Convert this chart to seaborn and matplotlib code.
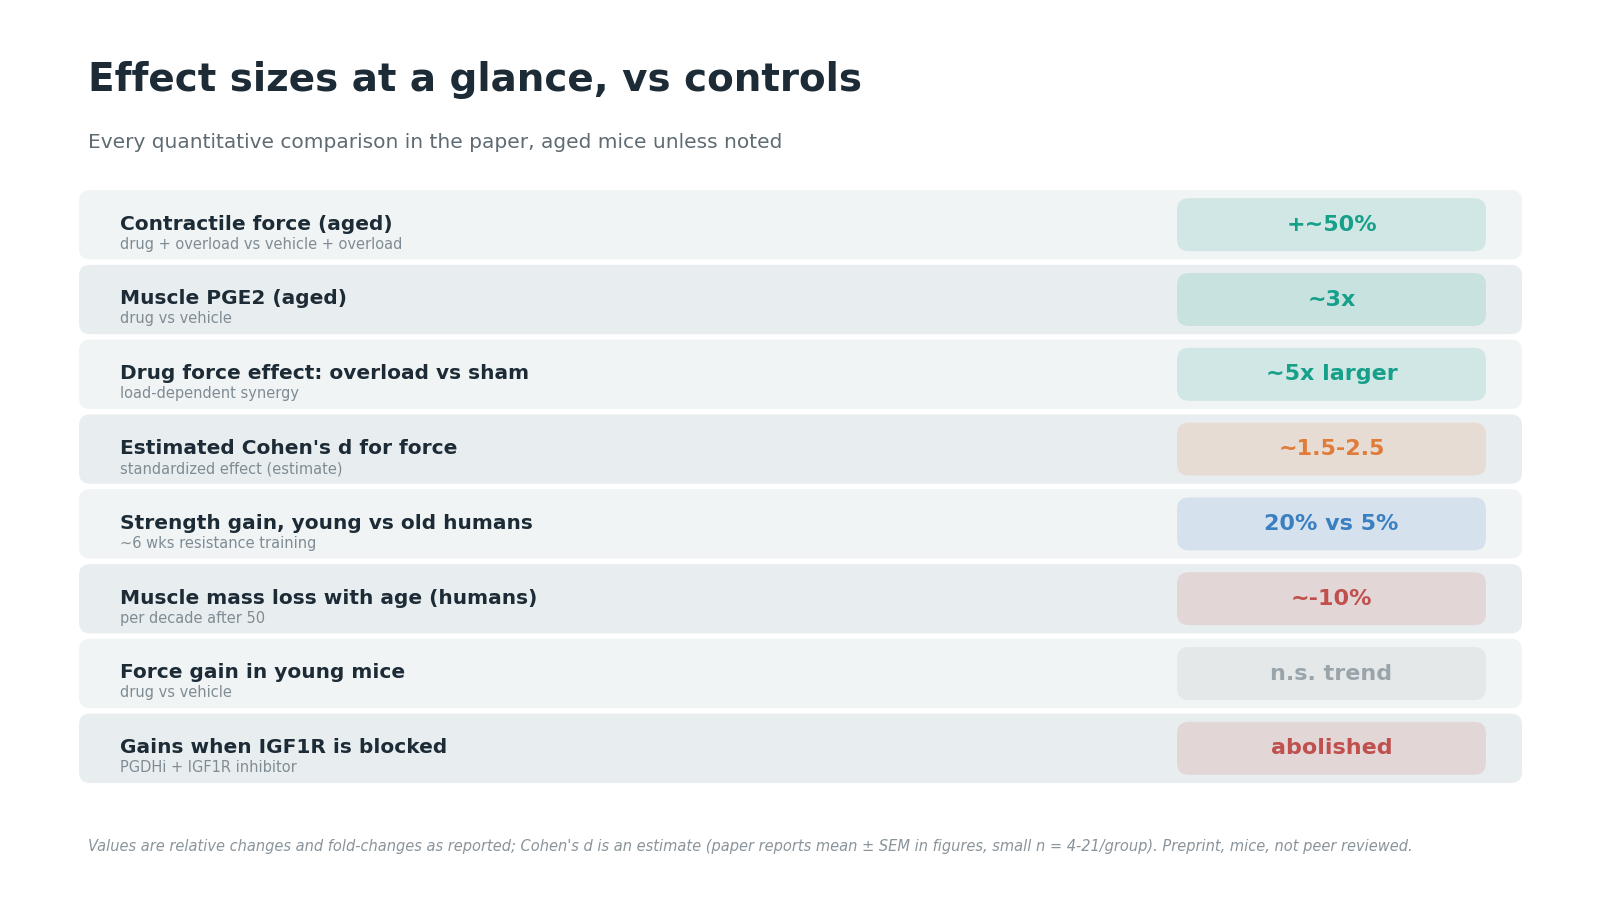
import matplotlib
matplotlib.use("Agg")
import matplotlib.pyplot as plt
from matplotlib.patches import FancyBboxPatch
import seaborn as sns

# ── data ─────────────────────────────────────────────────────────────────────
labels = [
    "Contractile force (aged)",
    "Muscle PGE2 (aged)",
    "Drug force effect: overload vs sham",
    "Estimated Cohen's d for force",
    "Strength gain, young vs old humans",
    "Muscle mass loss with age (humans)",
    "Force gain in young mice",
    "Gains when IGF1R is blocked",
]
sublabels = [
    "drug + overload vs vehicle + overload",
    "drug vs vehicle",
    "load-dependent synergy",
    "standardized effect (estimate)",
    "~6 wks resistance training",
    "per decade after 50",
    "drug vs vehicle",
    "PGDHi + IGF1R inhibitor",
]
effects = ["+~50%", "~3x", "~5x larger", "~1.5-2.5", "20% vs 5%", "~-10%", "n.s. trend", "abolished"]
tones = ["up", "up", "up", "estimate", "human", "down", "neutral", "down"]

TONE_COLORS = {
    "up": "#16a08a",
    "estimate": "#e07b39",
    "human": "#3a7fc1",
    "down": "#c0504d",
    "neutral": "#9aa5ab",
}
DARK = "#1c2b36"
MUTED = "#5f6b73"
SOFT = "#7f8c94"
ROW_BG = ["#f1f4f5", "#e8eef0"]

sns.set_theme(style="white")
plt.rcParams["font.family"] = ["DejaVu Sans"]

fig = plt.figure(figsize=(16, 9), dpi=100)
fig.patch.set_facecolor("white")

fig.text(88 / 1600, 1 - 91 / 900, "Effect sizes at a glance, vs controls",
         fontsize=28, fontweight="bold", color=DARK, va="baseline")
fig.text(88 / 1600, 1 - 148 / 900, "Every quantitative comparison in the paper, aged mice unless noted",
         fontsize=14.5, color=MUTED, va="baseline")

# rows axes: x in pixels, y in row index units
PITCH = 74.8
n = len(labels)
row_h = 69.4 / PITCH
ax = fig.add_axes([79 / 1600, 1 - 783 / 900, (1522 - 79) / 1600, (783 - 190) / 900])
ax.set_xlim(0, 1443)
ax.set_ylim(n - 1 + row_h / 2, -row_h / 2)
ax.axis("off")

aspect = 1 / PITCH
badge_x0, badge_x1 = 1098, 1407
badge_h = 53 / PITCH

for i, (lab, sub, eff, tone) in enumerate(zip(labels, sublabels, effects, tones)):
    ax.add_patch(FancyBboxPatch((0, i - row_h / 2), 1443, row_h,
                                boxstyle="round,pad=0,rounding_size=11",
                                mutation_aspect=aspect, linewidth=0,
                                facecolor=ROW_BG[i % 2], zorder=1))
    col = TONE_COLORS[tone]
    ax.add_patch(FancyBboxPatch((badge_x0, i - badge_h / 2), badge_x1 - badge_x0, badge_h,
                                boxstyle="round,pad=0,rounding_size=12",
                                mutation_aspect=aspect, linewidth=0,
                                facecolor=col, alpha=0.15, zorder=2))
    ax.text(41, i + 5 / PITCH, lab, fontsize=14.5, fontweight="bold",
            color=DARK, va="baseline", zorder=3)
    ax.text(41, i + 24 / PITCH, sub, fontsize=10.5, color=SOFT,
            va="baseline", zorder=3)
    ax.text((badge_x0 + badge_x1) / 2, i, eff, fontsize=16, fontweight="bold",
            color=col, ha="center", va="center", zorder=3)

fig.text(88 / 1600, 1 - 851 / 900,
         "Values are relative changes and fold-changes as reported; Cohen's d is an estimate "
         "(paper reports mean \u00b1 SEM in figures, small n = 4-21/group). Preprint, mice, not peer reviewed.",
         fontsize=10.5, style="italic", color="#8a949b", va="baseline")

fig.savefig("out.png", dpi=100, facecolor="white")
